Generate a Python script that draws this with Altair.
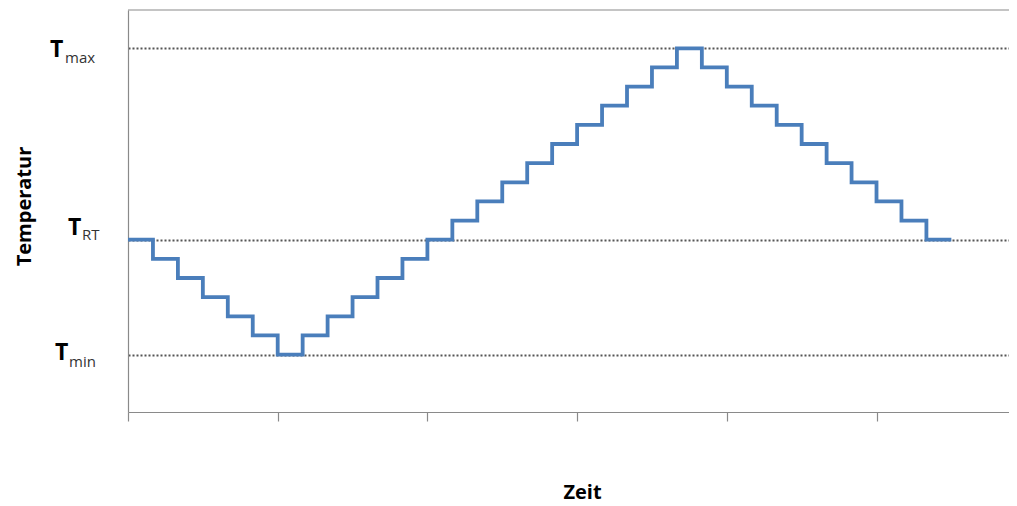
import altair as alt
import pandas as pd

# ---- data ----
# time in steps (one step = one dwell period), level in temperature steps relative to T_RT
step_times = [0, 1, 2, 3, 4, 5, 6, 7, 8, 9, 10, 11, 12, 13, 14, 15, 16,
              17, 18, 19, 20, 21, 22, 23, 24, 25, 26, 27, 28, 29, 30, 31, 32, 33]
step_levels = [0, -1, -2, -3, -4, -5, -6, -5, -4, -3, -2, -1, 0, 1, 2, 3, 4,
               5, 6, 7, 8, 9, 10, 9, 8, 7, 6, 5, 4, 3, 2, 1, 0, 0]

label_levels = [10, 0, -6]
label_main = ["T", "T", "T"]
label_sub = ["max", "RT", "min"]

x_ticks = [0, 6, 12, 18, 24, 30]
x_domain = [0, 35.31]
y_domain = [-9, 12]

profile = pd.DataFrame({"Zeit": step_times, "Temperatur": step_levels})
labels = pd.DataFrame({"Temperatur": label_levels, "main": label_main, "subscript": label_sub})
border = pd.DataFrame({"edge": [y_domain[1]]})

# ---- styles ----
axis_gray = "#8a8a8a"
line_blue = "#4A7EBB"
title_font = "Open Sans"

x_scale = alt.Scale(domain=x_domain, nice=False, zero=False)
y_scale = alt.Scale(domain=y_domain, nice=False, zero=False)

line = alt.Chart(profile).mark_line(
    interpolate="step-after", color=line_blue, strokeWidth=3.8, strokeJoin="miter"
).encode(
    x=alt.X("Zeit:Q", scale=x_scale, axis=alt.Axis(
        values=x_ticks, labels=False, grid=False, ticks=True, tickSize=9,
        tickColor=axis_gray, tickWidth=1.2, domainColor=axis_gray, domainWidth=1.2,
        title="Zeit", titleFont=title_font, titleFontSize=20, titleFontWeight="bold",
        titleColor="#000000", titleX=454, titleY=86, titleBaseline="alphabetic",
        titleAlign="center")),
    y=alt.Y("Temperatur:Q", scale=y_scale, axis=alt.Axis(
        values=label_levels, labels=False, ticks=False, grid=True, gridDash=[2, 2],
        gridColor="#555555", gridWidth=1.8, domainColor=axis_gray, domainWidth=1.2,
        title="Temperatur", titleFont=title_font, titleFontSize=20, titleFontWeight="bold",
        titleColor="#000000", titleX=-98, titleY=196, titleAngle=-90, titleAlign="center",
        titleBaseline="alphabetic")),
)

top_edge = alt.Chart(border).mark_rule(color=axis_gray, strokeWidth=1.2).encode(
    y=alt.datum(y_domain[1])
)

# per-label placement (pixel offsets left of the plot, vertical nudges)
label_pos = {
    "max": {"xm": -78, "xs": -63, "dym": 9, "dys": 15},
    "RT": {"xm": -60, "xs": -46, "dym": -5, "dys": 0},
    "min": {"xm": -73, "xs": -59, "dym": 5, "dys": 12},
}

text_layers = []
for s in label_sub:
    p = label_pos[s]
    base = alt.Chart(labels).transform_filter(alt.datum.subscript == s)
    text_layers.append(base.mark_text(
        align="left", baseline="alphabetic", font=title_font, fontSize=23,
        fontWeight="bold", color="#000000", dy=p["dym"]
    ).encode(x=alt.value(p["xm"]), y=alt.Y("Temperatur:Q", scale=y_scale), text="main:N"))
    text_layers.append(base.mark_text(
        align="left", baseline="alphabetic", font=title_font, fontSize=15,
        color="#333333", dy=p["dys"]
    ).encode(x=alt.value(p["xs"]), y=alt.Y("Temperatur:Q", scale=y_scale), text="subscript:N"))

chart = alt.layer(line, top_edge, *text_layers).properties(
    width=881, height=402,
    autosize=alt.AutoSizeParams(type="none"),
    padding={"left": 120, "top": 2, "right": 0, "bottom": 100},
    background="white",
).configure_view(strokeWidth=0)

chart.save("out.html", embed_options={"renderer": "svg", "actions": False})
